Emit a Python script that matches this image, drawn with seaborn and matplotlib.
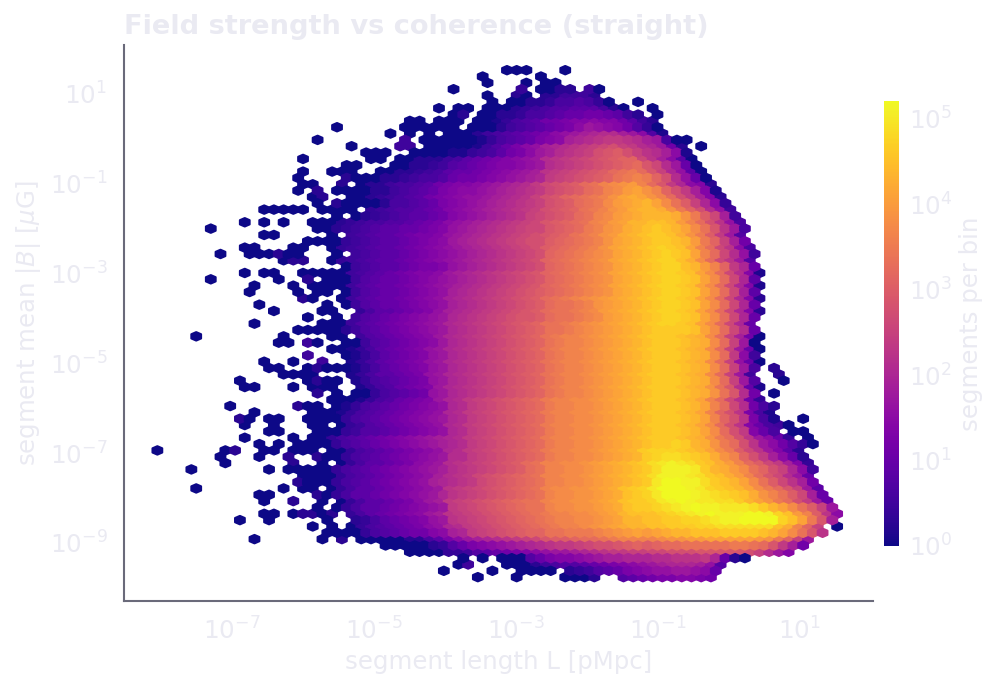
import numpy as np
import pandas as pd
import matplotlib
matplotlib.use("Agg")
import matplotlib.pyplot as plt
from matplotlib.colors import LogNorm
from matplotlib.ticker import NullLocator
import seaborn as sns

# Occupied hexagonal bins, one entry per lattice row from top to bottom.
# Each token is "first_column:levels"; a level character is log10(count) in eighths of a decade.
LEVEL_CHARS = "0123456789abcdefghijklmnopqrstuvwxyzABCDEFG"
ROWS_TOP = [
    "36:000 42:0",
    "33:0 39:0",
    "34:0 38:0 40:00",
    "30:0 37:3 39:00 41:22 44:4 45:0",
    "34:0 37:20 40:224442",
    "34:0 36:0022 40:3556 44:530 49:0",
    "29:0 31:00 34:00 36:0234 40:5667 44:77520 51:0",
    "30:02 33:0022 37:3556 41:7889 45:98742 51:0",
    "26:00 29:0 30:00 33:0013 37:5679 41:9abb 45:cbb97 50:42",
    "18:0 25:0000 29:00 32:0002 36:4567 40:89ac 44:edcb9 49:630",
    "24:0 26:0 28:0 30:0002 34:4567 38:89ac 42:defg 46:hhfec 51:61",
    "16:0 25:4 27:0000 31:0013 35:5678 39:abcf 43:ghij 47:jihfe 52:500",
    "20:0 25:44 28:0000 32:0146 36:8acd 40:fghi 44:jklm 48:kjhge 53:92 56:0",
    "21:000 26:000 29:0 30:113 33:4579 37:acef 41:hijk 45:mnom 49:kihfc 54:1",
    "15:0 22:00 25:0022 29:2 30:45789abcde 40:hijklmnopp 50:lifc70",
    "19:00 24:0022 28:34 30:6789abbcde 40:hijklmnopq 50:nlhe80",
    "15:0 18:000 23:0 24:0223 28:45 30:7889abcdef 40:ijklmnoqrs 50:qnkgd70",
    "14:0 19:20 21:002 24:2345 28:56 30:899a 34:bcdefg 40:jklmnoprst 50:spmhd80",
    "15:00 19:2 21:0224 25:5567 29:9 30:abbcdefghj 40:lmnoqrtuvw 50:tqnjgcb2",
    "14:0 16:2 18:000 21:0224 25:5678 29:a 30:bccdefghij 40:lmnoqrtuwx 50:vtpmjfb1",
    "16:02 20:0023 24:4567 28:9a 30:bcddefghik 40:mnpqrstvxy 50:xvtqmjfb2",
    "16:0 18:2 19:00 21:0025 25:5678 29:a 30:bcdefghijk 40:mnoqrsuwxy 50:zxurokgc3",
    "11:00000 17:00 19:0 20:0 22:3456 26:6789 30:bcdefghijk 40:mnoprstvwy 50:zzyvspmhd4",
    "18:0 20:023 23:4567 27:789 30:bcdefghikl 40:mnoqrtuwxy 50:zzzyvsolf4",
    "9:0 11:0 13:0 16:00 18:02 20:3455 24:6678 28:9a 30:cdefghijkl 40:nopqrtuwxz 50:zAAzwtqmid 60:5",
    "5:0 16:0 17:02 19:3 20:4567 24:7889 28:ab 30:defghijkll 40:nopqstvwyz 50:ABAzxurnie 60:5",
    "11:00 18:0 20:4567 24:789a 28:ab 30:defghijklm 40:noprstvwyz 50:ABBAyvsoje 60:6",
    "15:0000 19:3 20:4567 24:789a 28:bc 30:efghijklmm 40:opqrstvxyz 50:ABBAzwspkf 60:9",
    "9:00 14:00 18:0 19:3 20:4567 24:789a 28:bc 30:defghijklm 40:opqrstvxyz 50:ABCBAxtqli 60:c5",
    "6:0 9:00 11:0 12:2 13:00 18:0 20:4567 24:789a 28:bc 30:defghijklm 40:pqrstuvxyz 50:ABCBAxtqlh 60:d4",
    "13:022 18:0 19:3 20:4567 24:789a 28:bc 30:defghijklm 40:pqrstuvxyz 50:ABCCAyuqli 60:e6",
    "19:0 20:4567 24:789a 28:ab 30:defghijklm 40:pqrstuvxyz 50:ABCCAzwtpj 60:g8",
    "9:0 11:00 15:00 17:000 20:4567 24:89ab 28:bc 30:efghijklmn 40:pqrstuvxyz 50:ABCCBAxuql 60:hb1",
    "5:0 12:0 15:2 17:000 20:4678 24:89ab 28:cd 30:efghijklmn 40:pqrstuvxyz 50:ABCCBAxuql 60:g7",
    "10:0 14:0 16:0 17:000 20:4678 24:89ab 28:cd 30:efghijklmn 40:pqrstuvxyz 50:ABCCBAxuql 60:gb1",
    "9:0 14:0 16:00 19:0 20:4678 24:89ab 28:cd 30:fghijklmno 40:pqrstuvxyz 50:ABCCBAxuql 60:f7",
    "15:20 19:0 20:4678 24:89ab 28:cd 30:fghijklmno 40:qrstuvwxyz 50:ABCCBAxuql 60:gb2",
    "10:0 17:0 19:0 20:4678 24:89ab 28:cd 30:fghijklmno 40:qrrstvwxyz 50:ABCCBAxuql 60:g8",
    "12:0 17:00 21:35 23:77 25:89ab 29:d 30:fghijklmno 40:qrrstuwxyz 50:ABCCBAxuql 60:gb2",
    "15:0 18:0 20:4678 24:9abc 28:de 30:ghijklmnno 40:qrrstuwxyz 50:ABCCBAxuql 60:g8",
]
ROWS_BOTTOM = [
    "10:0 17:00 19:0 20:4678 24:9abc 28:de 30:ghijklmnop 40:rrstuvwxyz 50:ABCCBAxuql 60:g8",
    "14:00000 19:2 20:4678 24:9abc 28:de 30:ghijklmnop 40:rrstuvwxyz 50:ABBBBAxuql 60:h8",
    "4:0 13:0 18:00 21:4678 25:9abc 29:e 30:ghijklmnop 40:rsttuvwxyz 50:ABBBAzyuqk 60:f90",
    "12:00 15:40 19:00 21:4678 25:9abc 29:e 30:ghijklmnop 40:rsttuvwxyz 50:ABBBAzyuqk 60:e0",
    "18:00 20:1357 24:89ab 28:de 30:ghijklmnop 40:rsttuvwxyz 50:ABBBAzyuqk 60:e80",
    "15:4 19:0 20:1357 24:89ab 28:de 30:ghijklmnop 40:rsttuvwxyz 50:ABBBAzyuqj 60:c4",
    "11:0 14:0 17:4 20:1357 24:89ab 28:de 30:ghijklmnop 40:rsttuvwxyz 50:ABBBAzyuqk 60:d80",
    "11:00 15:02000 20:1357 24:89ab 28:de 30:ghijklmnop 40:rsttuvwxyz 50:ABBBAzyuqk 60:e5 63:2",
    "13:0000 20:1357 24:789a 28:de 30:ghijklmnop 40:rsttuvwxyz 50:ABBBAzyuqk 60:e4 64:2",
    "8:0 15:02 17:00 20:1356 24:789a 28:de 30:ghijklmnop 40:rsttuvwxyz 50:ABBBAzyuqk 60:e6 64:0",
    "9:00 14:0 16:000 21:1356 25:89ab 29:e 30:ghijklmnop 40:rsttuvwxyz 50:ABBBAzyvrn 60:h81",
    "16:2 18:0 20:0035 24:6789 28:de 30:ghijklmnop 40:rsttuvwxyz 50:ABBBAzyvrn 60:h9 63:0",
    "18:000 21:1356 25:89ab 29:e 30:ghjklmnopq 40:sttuuvwxyz 50:ABBBAzxtql 60:h93",
    "7:0 14:2 15:00 18:0 19:1356 23:789a 27:bcd 30:ghjklmnopq 40:sttuuvwxyz 50:ABBBAzxtql 60:h952",
    "10:0 16:00 18:0 19:1356 23:789a 27:bcd 30:ghjklmnopq 40:sttuuvwxyz 50:ABBBAzxtpm 60:ia51",
    "8:20 11:00 15:0 16:0 17:0035 21:6789 25:abcd 29:e 30:ghjklmnopq 40:sttuuvwxyz 50:ABBBAzxtpm 60:ia51 66:0",
    "9:0 12:0 16:00 19:0 20:346 23:789a 27:bcd 30:ghjklmnopq 40:sttuuvwxyz 50:ABBBAzxuqm 60:ib8540",
    "11:00 16:00 18:0346 22:6789 26:abcd 30:ghjklmnopq 40:sttuuvwxyz 50:ABBBAzxuqm 60:jb85 65:00",
    "9:0 14:0 16:0035 20:6789 24:abcd 28:ef 30:ghjklmnopq 40:sttuuvwxyz 50:ABBBAzyvsq 60:miec83 67:0",
    "10:0 12:0 14:00 16:0035 20:6789 24:abcd 28:ef 30:ghjklmnopq 40:sttuuvwxyz 50:ABBCBzyvsq 60:miec9630",
    "0:0 7:02 11:00 14:00 16:0 18:0035 22:6789 26:abcd 30:ghjklmnopq 40:sttuuvwxyz 50:BCCCBAzxus 60:olieb72",
    "6:0 10:0 13:2 16:2 17:0035 21:6789 25:abcd 29:e 30:hhjklmnopq 40:sttuuvwxyz 50:BCDDCBAyvt 60:pmjfc82",
    "7:0 14:2 17:0 19:0357 23:789a 27:cde 30:hijklmnoqr 40:ttuuvwxyzA 50:BDEFEDBAyw 60:tqoljfb3",
    "3:0 11:0 13:000 16:0035 20:6789 24:abcd 28:ef 30:hijklmnoqr 40:ttuuvwxyzA 50:BDFFFEBzyw 60:urpmkgc4",
    "15:00 17:0035 21:6789 25:abcd 29:f 30:hijlmnopqr 40:ttuuvwxyzA 50:BDFFFEDBAy 60:wtqnlhe8",
    "14:20 16:0035 20:6789 24:abcd 28:fg 30:hijlmnopqr 40:ttuuvwxyzA 50:BEGGFFDBAz 60:xurolif9",
    "4:0 13:0 15:0 16:0 18:0357 22:789a 26:bcde 30:ijklmnopqr 40:tuuvvwxyAB 50:CEGGGFECBA 60:zxusqnke7",
    "10:00 16:2 17:0357 21:789a 25:bcde 29:g 30:ijklmnopqr 40:tuuvvwxyAB 50:CEGGGFEDCB 60:Ayvtrolf8",
    "11:0 14:2 17:0 19:0357 23:789a 27:cef 30:jklmnopqrr 40:tuuvvwxyAB 50:BCEFGFEEDD 60:Bzxvsqmje8",
    "16:0 18:0357 22:789a 26:bcde 30:jklmnopqrr 40:tuuvvwxyAB 50:BCDEFGFFEE 60:EDBzxuroke",
    "11:00 14:022 17:02 20:3578 24:9abc 28:ef 30:ijklmnopqr 40:sttuuvwxzA 50:AABCDEFGFF 60:FGGFCAwtoi 70:c",
    "8:0 11:0 17:0 20:2357 24:89ab 28:de 30:ijklmnopqr 40:sttuuvwxzz 50:AABBCCDEFF 60:GGGGCAxsnf",
    "16:0 18:0 20:0356 24:789a 28:cd 30:ghjklmnopq 40:rsttuvwxyz 50:zAABBBCCDD 60:DDDDAytpk 70:0",
    "17:000 20:0356 24:7899 28:bc 30:fgjklmnopp 40:rrssstuvwx 50:wxyzzAAABB 60:BBAzxurni",
    "10:0 17:0 19:2 21:0 22:00 24:0022 28:57 30:acefghijkl 40:noopqqrstt 50:ttuvvwwxxx 60:xxwvspke",
    "23:00 25:0002 29:3 30:68abcdefgh 40:ijjklmmnop 50:opqqrrrrrs 60:srqnjf9",
    "26:0000 30:3346 34:789abc 40:deefghijjk 50:kllmmmnnnn 60:nmkheb",
    "31:0 33:0 35:00068 40:abbcdeffgg 50:ghhiiijg82 60:0",
    "31:04 36:0002 40:4566789abc 50:defgggfd6",
    "29:0 34:0 37:0000 42:234678ab 50:cddeedc8",
    "33:0 37:0 42:0002 48:6789aabba9",
]
ROW_TOKENS = ROWS_TOP + ROWS_BOTTOM

# Lattice layout and colour range of the binning
GRID_COLUMNS = 70
GRID_ROWS = 40
LOG_X_RANGE = (-8.05, 1.525)
LOG_Y_RANGE = (-9.76, 1.51)
MAX_LOG_COUNT = 5.21
X_TICK_EXPONENTS = [-7, -5, -3, -1, 1]
Y_TICK_EXPONENTS = [-9, -7, -5, -3, -1, 1]

TEXT_COLOR = "#EAEAF2"
SPINE_COLOR = "#6A6A7A"


def expand_rows(rows):
    """Turn the row tokens into one record per occupied bin."""
    step_x = (LOG_X_RANGE[1] - LOG_X_RANGE[0]) / GRID_COLUMNS
    step_y = (LOG_Y_RANGE[1] - LOG_Y_RANGE[0]) / GRID_ROWS
    records = []
    for row, line in enumerate(rows):
        log_y = LOG_Y_RANGE[1] - row * step_y / 2
        shift = 0.5 if row % 2 else 0.0
        for token in line.split():
            first, levels = token.split(":")
            for offset, char in enumerate(levels):
                column = int(first) + offset
                records.append({
                    "length": 10 ** (LOG_X_RANGE[0] + (column + shift) * step_x),
                    "field": 10 ** log_y,
                    "count": 10 ** (LEVEL_CHARS.index(char) / 8),
                })
    return pd.DataFrame(records)


segments = expand_rows(ROW_TOKENS)

sns.set_theme(style="white", rc={"font.family": "DejaVu Sans"})
cmap = sns.color_palette("plasma", as_cmap=True)

width, height = 996, 688
fig = plt.figure(figsize=(width / 150, height / 150), dpi=150)
ax = fig.add_axes([124 / width, 1 - 601 / height, 749 / width, 556 / height])

hexes = ax.hexbin(
    segments["length"], segments["field"], C=segments["count"],
    reduce_C_function=np.sum, gridsize=(GRID_COLUMNS, GRID_ROWS),
    extent=(*LOG_X_RANGE, *LOG_Y_RANGE), xscale="log", yscale="log",
    cmap=cmap, norm=LogNorm(vmin=1, vmax=10 ** MAX_LOG_COUNT),
)

ax.set_xlim(10 ** -8.52, 10 ** 2.03)
ax.set_ylim(10 ** -10.29, 10 ** 2.07)
ax.set_xticks([10.0 ** e for e in X_TICK_EXPONENTS])
ax.set_yticks([10.0 ** e for e in Y_TICK_EXPONENTS])
ax.xaxis.set_minor_locator(NullLocator())
ax.yaxis.set_minor_locator(NullLocator())
ax.tick_params(axis="both", labelsize=11.8, colors=TEXT_COLOR, length=3, width=0.8, pad=5)
ax.set_xlabel("segment length L [pMpc]", color=TEXT_COLOR, fontsize=11.7, labelpad=2.5)
ax.set_ylabel(r"segment mean $|B|$ [$\mu$G]", color=TEXT_COLOR, fontsize=11.7, labelpad=3)
ax.set_title("Field strength vs coherence (straight)", loc="left",
             color=TEXT_COLOR, fontsize=13.1, fontweight="bold", pad=5.5)

sns.despine(ax=ax)
for side in ("left", "bottom"):
    ax.spines[side].set_color(SPINE_COLOR)
    ax.spines[side].set_linewidth(1.0)

cax = fig.add_axes([884 / width, 1 - 546 / height, 15 / width, 445 / height])
bar = fig.colorbar(hexes, cax=cax)
bar.outline.set_visible(False)
bar.ax.yaxis.set_minor_locator(NullLocator())
bar.ax.tick_params(labelsize=11.8, colors=TEXT_COLOR, length=0, pad=5)
bar.set_label("segments per bin", color=TEXT_COLOR, fontsize=11.7, labelpad=3)

fig.savefig("out.png", dpi=150, facecolor="white")
